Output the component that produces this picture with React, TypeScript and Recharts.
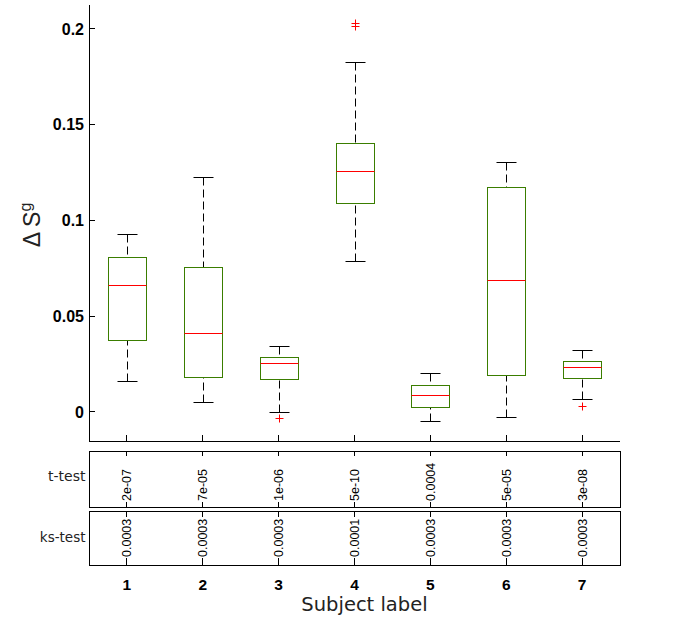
import { ComposedChart, Bar, Line, XAxis, YAxis } from "recharts";

const subjects = ["1", "2", "3", "4", "5", "6", "7"];
const whiskerLow = [0.016, 0.0051, 0.0002, 0.0787, -0.0049, -0.0028, 0.0066];
const q1 = [0.0375, 0.0181, 0.0171, 0.109, 0.0024, 0.0192, 0.0176];
const median = [0.0662, 0.0411, 0.0254, 0.1258, 0.0087, 0.0688, 0.0234];
const q3 = [0.0808, 0.0756, 0.0286, 0.1404, 0.0139, 0.1174, 0.0265];
const whiskerHigh = [0.0928, 0.1226, 0.0343, 0.1827, 0.0202, 0.1305, 0.0322];
const outlierA = [null, null, -0.003, 0.2029, null, null, 0.003];
const outlierB = [null, null, null, 0.2015, null, null, null];
const tTest = ["2e-07", "7e-05", "1e-06", "5e-10", "0.0004", "5e-05", "3e-08"];
const ksTest = ["0.0003", "0.0003", "0.0003", "0.0001", "0.0003", "0.0003", "0.0003"];
const yTicks = [0, 0.05, 0.1, 0.15, 0.2];

const data = subjects.map((s, i) => ({
  subject: s,
  range: [whiskerLow[i], whiskerHigh[i]],
  low: whiskerLow[i],
  high: whiskerHigh[i],
  q1: q1[i],
  median: median[i],
  q3: q3[i],
  outA: outlierA[i],
  outB: outlierB[i],
}));

const GREEN = "#3a7d00";
const SANS = "Liberation Sans, Arial, sans-serif";
const DEJAVU = "DejaVu Sans, sans-serif";
const CRISP = "crispEdges";

// snap to pixel centres so 1px strokes stay sharp
const snap = (v: number) => Math.round(v) + 0.5;

function BoxShape(props: any) {
  const { x, y, width, height, payload } = props;
  const top = Math.min(y, y + height);
  const bottom = Math.max(y, y + height);
  const { low, high } = payload;
  const py = (v: number) => snap(bottom - ((v - low) / (high - low)) * (bottom - top));
  const cx = snap(x + width / 2);
  const left = snap(x);
  const right = snap(x + width);
  const cap = 10;
  return (
    <g>
      <line x1={cx} x2={cx} y1={py(high)} y2={py(payload.q3)} stroke="#000" strokeDasharray="8 4" />
      <line x1={cx} x2={cx} y1={py(low)} y2={py(payload.q1)} stroke="#000" strokeDasharray="8 4" />
      <line x1={cx - cap} x2={cx + cap} y1={py(high)} y2={py(high)} stroke="#000" />
      <line x1={cx - cap} x2={cx + cap} y1={py(low)} y2={py(low)} stroke="#000" />
      <rect
        x={left}
        y={py(payload.q3)}
        width={right - left}
        height={py(payload.q1) - py(payload.q3)}
        fill="#fff"
        stroke={GREEN}
      />
      <line x1={left} x2={right} y1={py(payload.median)} y2={py(payload.median)} stroke="#ff0000" />
    </g>
  );
}

function PlusDot(props: any) {
  const { cx, cy, value, index } = props;
  if (value == null || cy == null || isNaN(cy)) return <g key={`p${index}`} />;
  const x = snap(cx);
  const y = snap(cy);
  return (
    <g key={`p${index}`}>
      <line x1={x - 4} x2={x + 4} y1={y} y2={y} stroke="#ff0000" />
      <line x1={x} x2={x} y1={y - 4} y2={y + 4} stroke="#ff0000" />
    </g>
  );
}

function YTick(props: any) {
  const { x, y, payload } = props;
  return (
    <g>
      <line x1={x} x2={x + 6} y1={y} y2={y} stroke="#000" shapeRendering={CRISP} />
      <text x={x - 5} y={y} dy="0.36em" textAnchor="end" fontFamily={SANS} fontSize={16} fontWeight="bold" fill="#000">
        {payload.value}
      </text>
    </g>
  );
}

function XTick(props: any) {
  const { x, y, payload } = props;
  const i = subjects.indexOf(String(payload.value));
  return (
    <g>
      <g shapeRendering={CRISP} stroke="#000">
        <line x1={x} x2={x} y1={y} y2={y - 6} />
        <line x1={x} x2={x} y1={y + 10} y2={y + 15} />
        <line x1={x} x2={x} y1={y + 61} y2={y + 66} />
        <line x1={x} x2={x} y1={y + 70} y2={y + 76} />
        <line x1={x} x2={x} y1={y + 117} y2={y + 124} />
      </g>
      <text
        transform={`translate(${x},${y + 60}) rotate(-90)`}
        dy="0.36em"
        fontFamily={SANS}
        fontSize={12.5}
        fill="#000"
      >
        {tTest[i]}
      </text>
      <text
        transform={`translate(${x},${y + 116}) rotate(-90)`}
        dy="0.36em"
        fontFamily={SANS}
        fontSize={12.5}
        fill="#000"
      >
        {ksTest[i]}
      </text>
      <text x={x} y={y + 149} textAnchor="middle" fontFamily={SANS} fontSize={15.5} fontWeight="bold" fill="#000">
        {payload.value}
      </text>
    </g>
  );
}

function XLabel(props: any) {
  const vb = props.viewBox;
  return (
    <g>
      <g shapeRendering={CRISP}>
        <rect x={vb.x} y={vb.y + 10} width={vb.width} height={56} fill="none" stroke="#000" />
        <rect x={vb.x} y={vb.y + 70} width={vb.width} height={54} fill="none" stroke="#000" />
      </g>
      <text x={vb.x - 3.5} y={vb.y + 40} textAnchor="end" fontFamily={DEJAVU} fontSize={14} fill="#222">
        t-test
      </text>
      <text x={vb.x - 3.5} y={vb.y + 101} textAnchor="end" fontFamily={DEJAVU} fontSize={13.5} fill="#222">
        ks-test
      </text>
      <text x={vb.x + vb.width / 2 + 10} y={vb.y + 170} textAnchor="middle" fontFamily={DEJAVU} fontSize={19.5} fill="#222">
        Subject label
      </text>
    </g>
  );
}

function YLabel(props: any) {
  const vb = props.viewBox;
  const cx = vb.x + 40;
  const cy = vb.y + vb.height / 2 + 2;
  return (
    <text transform={`translate(${cx},${cy}) rotate(-90)`} textAnchor="middle" fontFamily={SANS} fontSize={23} fill="#222">
      Δ S
      <tspan dy={-9} fontSize={16}>
        g
      </tspan>
    </text>
  );
}

export default function App() {
  return (
    <div style={{ position: "absolute", left: 0, top: 0, background: "#fff" }}>
      <ComposedChart width={684} height={619} data={data} margin={{ top: 5, right: 64, left: 0, bottom: 0 }}>
        <XAxis
          dataKey="subject"
          height={178}
          axisLine={{ stroke: "#000", shapeRendering: CRISP }}
          tickLine={false}
          tickSize={0}
          tickMargin={0}
          tick={<XTick />}
          interval={0}
          label={<XLabel />}
        />
        <YAxis
          type="number"
          width={89}
          domain={[-0.0152, 0.2125]}
          allowDataOverflow
          ticks={yTicks}
          axisLine={{ stroke: "#000", shapeRendering: CRISP }}
          tickLine={false}
          tickSize={0}
          tickMargin={0}
          tick={<YTick />}
          label={<YLabel />}
        />
        <Bar dataKey="range" barSize={38} shape={<BoxShape />} isAnimationActive={false} />
        <Line dataKey="outA" stroke="none" dot={<PlusDot />} activeDot={false} isAnimationActive={false} />
        <Line dataKey="outB" stroke="none" dot={<PlusDot />} activeDot={false} isAnimationActive={false} />
      </ComposedChart>
    </div>
  );
}
